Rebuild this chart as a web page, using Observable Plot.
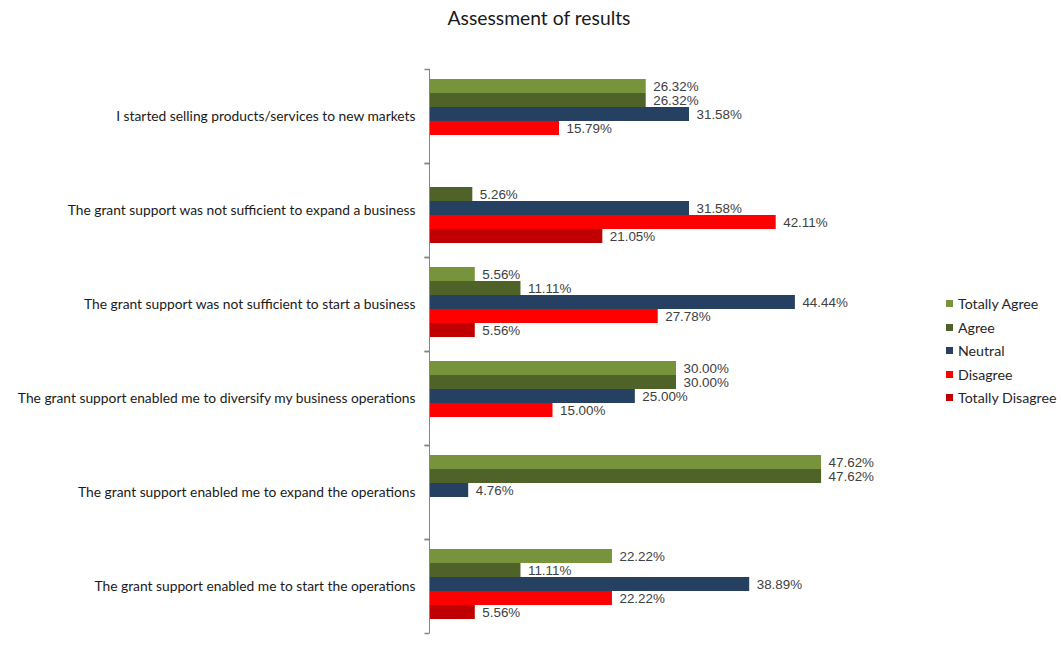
<!DOCTYPE html>
<html>
<head>
<meta charset="utf-8">
<script src="https://cdn.jsdelivr.net/npm/d3@7"></script>
<script src="https://cdn.jsdelivr.net/npm/@observablehq/plot@0.6"></script>
<style>
  html, body { margin: 0; padding: 0; background: #fff; }
  #wrap { position: relative; width: 1061px; height: 647px; overflow: hidden; }
  #title { height: 40px; line-height: 36px; text-align: center; font-family: Lato, "Open Sans", sans-serif; font-size: 19.3px; color: #1a1a1a; padding-left: 17px; box-sizing: border-box; }
  #legend { position: absolute; left: 946px; top: 292px; font-family: Lato, sans-serif; font-size: 14.2px; color: #262626; }
  #legend .item { height: 23.5px; display: flex; align-items: center; white-space: nowrap; }
  #legend .sw { width: 7px; height: 7px; margin-right: 5px; }
</style>
</head>
<body>
<div id="wrap">
  <div id="title">Assessment of results</div>
  <div id="chart"></div>
  <div id="legend"></div>
</div>
<script>
const categories = [
  "I started selling products/services to new markets",
  "The grant support was not sufficient to expand a business",
  "The grant support was not sufficient to start a business",
  "The grant support enabled me to diversify my business operations",
  "The grant support enabled me to expand the operations",
  "The grant support enabled me to start the operations"
];
const seriesNames = ["Totally Agree", "Agree", "Neutral", "Disagree", "Totally Disagree"];
const seriesColors = ["#77933C", "#4F6228", "#254061", "#FF0000", "#C00000"];
const totallyAgree    = [26.32, 0,     5.56,  30.00, 47.62, 22.22];
const agree           = [26.32, 5.26,  11.11, 30.00, 47.62, 11.11];
const neutral         = [31.58, 31.58, 44.44, 25.00, 4.76,  38.89];
const disagree        = [15.79, 42.11, 27.78, 15.00, 0,     22.22];
const totallyDisagree = [0,     21.05, 5.56,  0,     0,     5.56];

const seriesValues = [totallyAgree, agree, neutral, disagree, totallyDisagree];
const rows = [];
categories.forEach((c, i) => {
  seriesNames.forEach((s, j) => {
    rows.push({category: c, series: s, value: seriesValues[j][i]});
  });
});
const nonZero = rows.filter(d => d.value > 0);

const tickSym = {
  draw(context, size) { context.moveTo(-5, 0); context.lineTo(0, 0); }
};

const chart = Plot.plot({
  width: 1061,
  height: 607,
  marginTop: 28,
  marginBottom: 14,
  marginLeft: 429,
  marginRight: 138,
  x: {domain: [0, 60], axis: null},
  y: {domain: seriesNames, paddingInner: 0, paddingOuter: 0.7, align: 0.42, axis: null},
  fy: {domain: categories, padding: 0},
  color: {domain: seriesNames, range: seriesColors},
  marks: [
    Plot.barX(nonZero, {fy: "category", y: "series", x: "value", fill: "series", inset: 0}),
    Plot.text(nonZero, {
      fy: "category", y: "series", x: "value",
      text: d => d.value.toFixed(2) + "%",
      textAnchor: "start", dx: 7,
      fill: "#404040", fontSize: 13.4,
      fontFamily: "'Liberation Sans', Arial, sans-serif"
    }),
    Plot.ruleX([0], {stroke: "#868686", strokeWidth: 1}),
    Plot.dot([0], {frameAnchor: "top-left", symbol: tickSym, fill: "none", stroke: "#868686", r: 3}),
    Plot.dot([0], {frameAnchor: "bottom-left", symbol: tickSym, fill: "none", stroke: "#868686", r: 3}),
    Plot.axisFy({anchor: "left", tickSize: 0, tickPadding: 14, label: null,
      fontSize: 13.8, fontFamily: "Lato, sans-serif", fill: "#1a1a1a"})
  ],
  style: {fontFamily: "Lato, sans-serif", background: "#fff"}
});
document.getElementById("chart").appendChild(chart);

const legend = document.getElementById("legend");
seriesNames.forEach((s, i) => {
  const item = document.createElement("div");
  item.className = "item";
  const sw = document.createElement("span");
  sw.className = "sw";
  sw.style.background = seriesColors[i];
  const lab = document.createElement("span");
  lab.textContent = s;
  item.appendChild(sw);
  item.appendChild(lab);
  legend.appendChild(item);
});
</script>
</body>
</html>
